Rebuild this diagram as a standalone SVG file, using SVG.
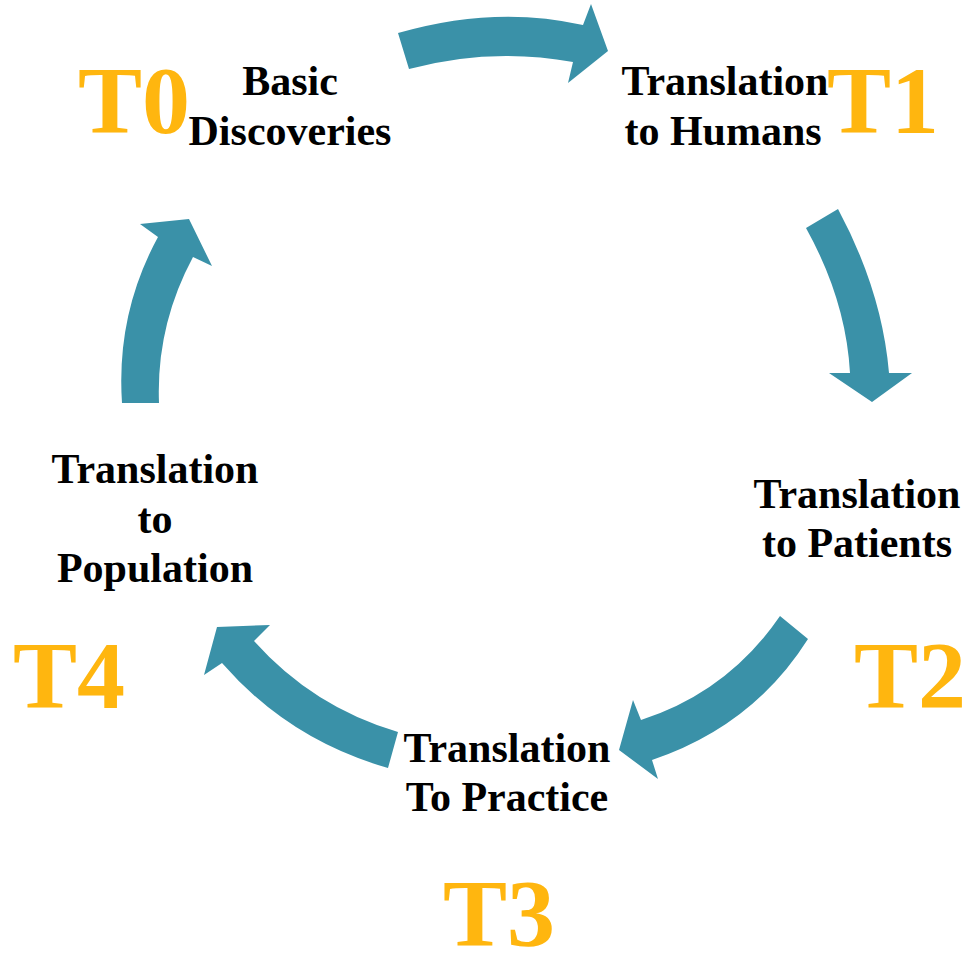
<svg xmlns="http://www.w3.org/2000/svg" width="965" height="967" viewBox="0 0 965 967">
<style>
.arrow{fill:#3A91A8;stroke:none}
.lbl{font-family:"Liberation Serif","Times New Roman",serif;font-weight:bold;font-size:42px;fill:#000;text-anchor:middle}
.tag{font-family:"Liberation Serif","Times New Roman",serif;font-weight:bold;font-size:96px;fill:#FFB60F;text-anchor:middle}
</style>
<rect width="965" height="967" fill="#fff"/>
<g id="connectors">
<path class="arrow" d="M398,33 Q495,5 583,25 L591,4 L608,51 L568,83 L573,62 Q490,47 409,69 Z"/>
<path class="arrow" d="M806,228 L838,209 Q882,291 889,373 L912,373 L872,402 L829,373 L850,373 Q846,300 806,228 Z"/>
<path class="arrow" d="M780,616 Q728,692 641,720 L633,700 L619,750 L658,779 L652,760 Q753,726 808,639 Z"/>
<path class="arrow" d="M398,732 Q313,707 254,641 L270,625 L217,627 L204,675 L222,663 Q289,740 388,768 Z"/>
<path class="arrow" d="M122,403 Q116,314 158,237 L140,224 L189,219 L212,266 L193,257 Q156,326 159,403 Z"/>
</g>
<g id="t0">
<text class="tag" x="134" y="133">T0</text>
<text class="lbl" x="290" y="95">Basic</text>
<text class="lbl" x="290" y="145">Discoveries</text>
</g>
<g id="t1">
<text class="tag" x="883" y="133">T1</text>
<text class="lbl" x="725" y="95">Translation</text>
<text class="lbl" x="723" y="145">to Humans</text>
</g>
<g id="t2">
<text class="tag" x="910" y="708">T2</text>
<text class="lbl" x="857" y="508">Translation</text>
<text class="lbl" x="857" y="557">to Patients</text>
</g>
<g id="t3">
<text class="tag" x="499" y="946">T3</text>
<text class="lbl" x="507" y="762">Translation</text>
<text class="lbl" x="507" y="811">To Practice</text>
</g>
<g id="t4">
<text class="tag" x="69" y="708">T4</text>
<text class="lbl" x="155" y="483">Translation</text>
<text class="lbl" x="155" y="533">to</text>
<text class="lbl" x="155" y="582">Population</text>
</g>
</svg>
